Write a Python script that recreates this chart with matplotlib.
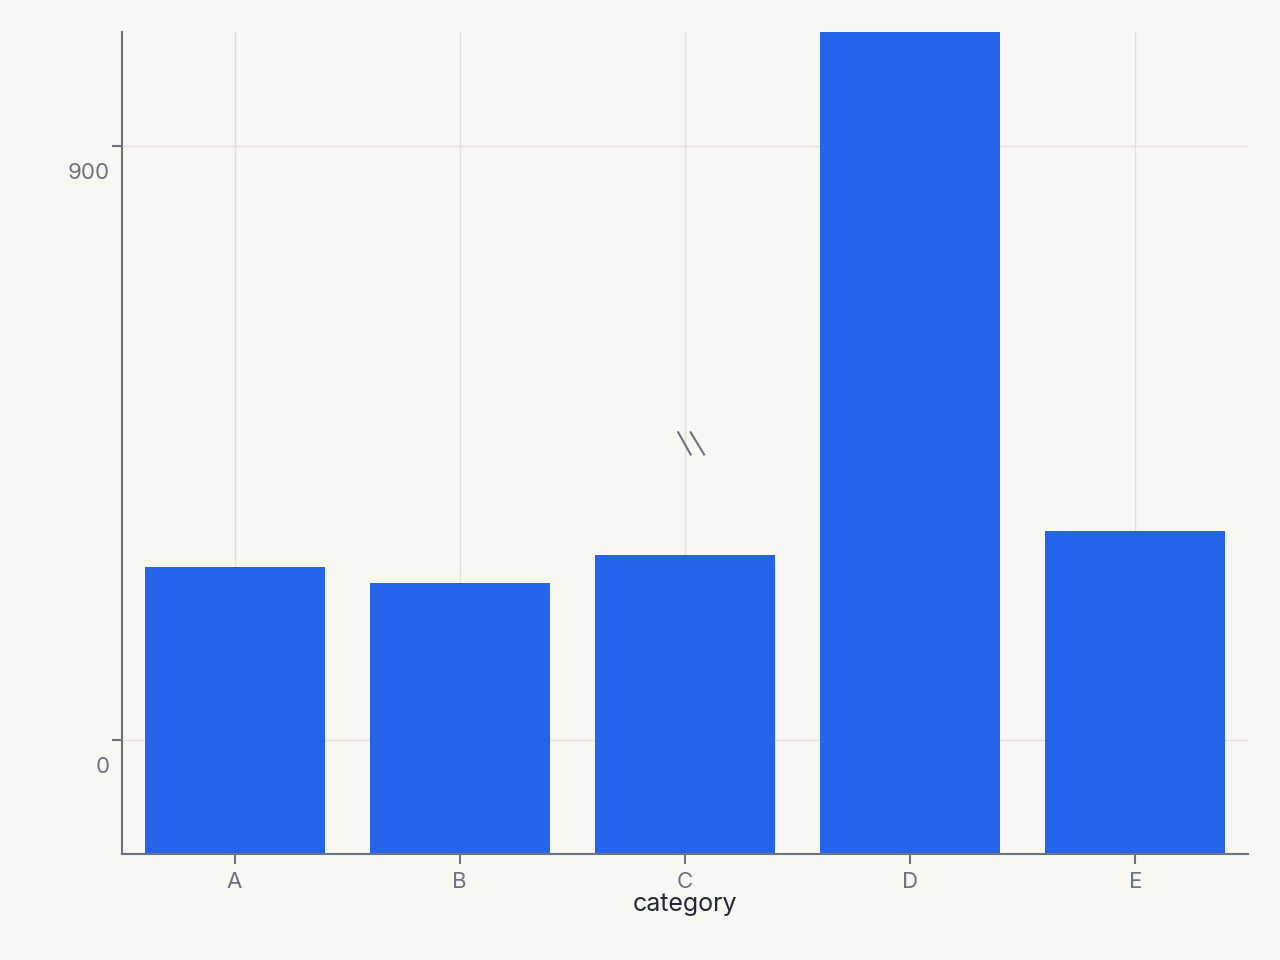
import matplotlib
matplotlib.use("Agg")
import matplotlib.pyplot as plt
import matplotlib.transforms as mtransforms

categories = ["A", "B", "C", "D", "E"]
values = [262, 238, 280, 1400, 317]
y_ticks = [0, 900]

BG = "#F9F7F2"
BAR = "#2563EB"
AXIS = "#6B7280"
GRID = "#E3E0DB"
LABEL = "#1F2937"

plt.rcParams["font.family"] = ["Inter", "DejaVu Sans"]

fig = plt.figure(figsize=(12.8, 9.6), dpi=100, facecolor=BG)
ax = fig.add_axes([0.0953, 0.1104, 0.8797, 0.8563], facecolor=BG)

y_min, y_max = -173, 1073
x = list(range(len(categories)))
ax.bar(x, [v - y_min for v in values], bottom=y_min, width=0.8, color=BAR, zorder=3)

ax.set_xlim(-0.5, len(categories) - 0.5)
ax.set_ylim(y_min, y_max)
ax.set_xticks(x)
ax.set_xticklabels(categories)
ax.set_yticks(y_ticks)
ax.set_yticklabels([str(t) for t in y_ticks])

ax.grid(True, color=GRID, linewidth=1, zorder=0)
for side in ["top", "right"]:
    ax.spines[side].set_visible(False)
for side in ["left", "bottom"]:
    ax.spines[side].set_color(AXIS)
    ax.spines[side].set_linewidth(1.5)
    ax.spines[side].set_zorder(4)

ax.tick_params(axis="both", colors=AXIS, length=7, width=1.5, labelsize=16, pad=6)
ax.tick_params(axis="y", pad=2)

# y labels sit below their tick
offset = mtransforms.ScaledTranslation(0, -0.25, fig.dpi_scale_trans)
for lbl in ax.get_yticklabels():
    lbl.set_transform(lbl.get_transform() + offset)

ax.set_xlabel("category", fontsize=18, color=LABEL, labelpad=1)

# axis break marker
ax.plot([0.494, 0.505], [0.513, 0.486], transform=ax.transAxes, color=AXIS, lw=1.5, zorder=5)
ax.plot([0.505, 0.517], [0.513, 0.486], transform=ax.transAxes, color=AXIS, lw=1.5, zorder=5)

fig.savefig("out.png", dpi=100, facecolor=BG)
